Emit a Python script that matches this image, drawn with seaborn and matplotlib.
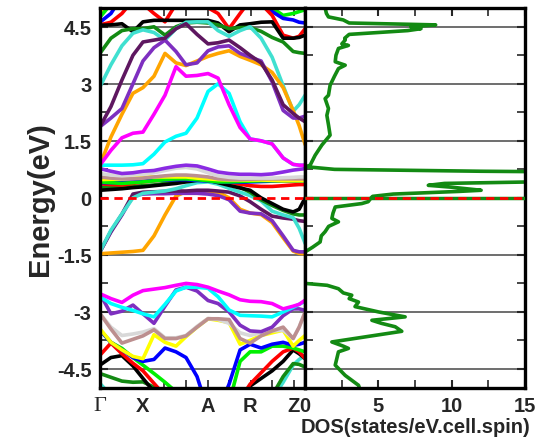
import numpy as np
import pandas as pd
import seaborn as sns
import matplotlib
matplotlib.use('Agg')
import matplotlib.pyplot as plt
from matplotlib.ticker import MultipleLocator, FixedLocator

# k-path (pixel-like units along the path) and high symmetry points
k_path = [0, 11, 22, 33, 43, 54, 65, 76, 86, 97, 108, 118, 129, 140, 150, 161, 172, 183, 193, 199, 205]
high_sym_k = [0, 43, 108, 150, 193]
high_sym_labels = ['Γ', 'X', 'A', 'R', 'Z']
path_minor_k = [43, 64.5, 86, 107.5, 129, 150.5, 172, 193.5]

# ---- conduction bands (eV) ----
c_red = [4.55, 4.62, 4.85, 5.2, 5.1, 4.85, 4.63, 5.1, 5.4, 5.2, 5.0, 4.85, 4.45, 4.85, 5.2, 5.1, 4.8, 4.28, 4.2, 4.25, 4.45]
c_blue = [4.62, 4.85, 5.3, 5.5, 5.5, 5.5, 5.5, 5.5, 5.5, 5.5, 5.5, 5.5, 5.5, 5.5, 5.5, 5.2, 4.9, 4.72, 4.68, 4.62, 4.6]
c_lime = [4.75, 5.1, 5.5, 5.5, 5.5, 5.5, 5.5, 5.5, 5.5, 5.5, 5.5, 5.5, 5.5, 5.5, 5.5, 5.3, 5.0, 4.8, 4.85, 4.9, 4.95]
c_yellow = [4.85, 5.2, 5.5, 5.5, 5.5, 5.5, 5.5, 5.5, 5.5, 5.5, 5.5, 5.5, 5.5, 5.5, 5.5, 5.5, 5.5, 5.5, 5.5, 5.5, 5.5]
c_black = [4.54, 4.55, 4.58, 4.37, 4.63, 4.67, 4.67, 4.67, 4.67, 4.67, 4.67, 4.6, 4.37, 4.55, 4.58, 4.62, 4.63, 4.2, 4.2, 4.22, 4.28]
c_green = [3.8, 4.2, 4.4, 4.45, 4.45, 4.5, 4.28, 4.5, 4.6, 4.62, 4.6, 4.55, 4.45, 4.48, 4.48, 4.38, 4.22, 4.1, 3.85, 3.82, 3.8]
c_turq = [2.92, 3.5, 4.0, 4.33, 4.42, 4.35, 4.15, 4.45, 4.62, 4.63, 4.63, 4.4, 4.25, 4.4, 4.5, 4.2, 3.7, 2.95, 2.28, 2.45, 2.7]
c_dpurple = [1.87, 2.4, 3.1, 3.75, 4.1, 4.15, 4.2, 4.45, 4.58, 4.3, 4.05, 4.08, 4.15, 3.95, 3.75, 3.55, 3.1, 2.45, 2.22, 2.1, 2.0]
c_violet = [1.87, 2.1, 2.35, 3.0, 3.6, 3.95, 4.15, 3.85, 3.5, 3.55, 3.87, 3.97, 4.0, 3.8, 3.7, 3.6, 3.05, 2.3, 2.1, 2.1, 2.15]
c_orange = [0.86, 1.6, 2.2, 2.75, 2.9, 3.2, 3.8, 3.55, 3.48, 3.6, 3.72, 3.8, 3.87, 3.72, 3.62, 3.5, 3.3, 2.9, 2.3, 1.9, 1.4]
c_magenta = [0.86, 1.25, 1.58, 1.7, 1.73, 2.2, 2.7, 3.45, 3.2, 3.22, 3.27, 3.15, 2.45, 1.85, 1.55, 1.5, 1.42, 1.05, 0.88, 0.86, 0.86]
c_cyan = [0.86, 0.86, 0.86, 0.87, 0.9, 1.15, 1.47, 1.62, 1.7, 2.1, 2.8, 3.0, 2.75, 2.0, 1.55, 1.5, 1.42, 1.05, 0.88, 0.86, 0.86]

# ---- bands near the Fermi level ----
f_violet = [0.77, 0.7, 0.64, 0.66, 0.7, 0.72, 0.78, 0.83, 0.86, 0.84, 0.76, 0.68, 0.64, 0.62, 0.62, 0.61, 0.63, 0.68, 0.73, 0.75, 0.77]
f_gray = [0.64, 0.6, 0.58, 0.6, 0.62, 0.66, 0.72, 0.78, 0.8, 0.76, 0.66, 0.58, 0.54, 0.52, 0.52, 0.52, 0.52, 0.53, 0.54, 0.55, 0.55]
f_tan = [0.55, 0.52, 0.5, 0.5, 0.52, 0.55, 0.58, 0.6, 0.6, 0.58, 0.55, 0.5, 0.48, 0.48, 0.49, 0.5, 0.5, 0.5, 0.5, 0.5, 0.5]
f_yellow = [0.48, 0.49, 0.5, 0.52, 0.54, 0.55, 0.55, 0.55, 0.55, 0.52, 0.5, 0.48, 0.47, 0.47, 0.47, 0.47, 0.46, 0.45, 0.45, 0.45, 0.45]
f_lime = [0.42, 0.4, 0.38, 0.4, 0.42, 0.45, 0.48, 0.5, 0.5, 0.48, 0.45, 0.42, 0.42, 0.43, 0.44, 0.45, 0.45, 0.45, 0.45, 0.45, 0.45]
f_blue = [0.4, 0.4, 0.4, 0.42, 0.44, 0.46, 0.47, 0.48, 0.48, 0.46, 0.44, 0.42, 0.41, 0.41, 0.42, 0.43, 0.44, 0.44, 0.44, 0.44, 0.44]
f_red = [0.37, 0.35, 0.34, 0.38, 0.42, 0.45, 0.48, 0.5, 0.5, 0.5, 0.48, 0.45, 0.42, 0.36, 0.32, 0.3, 0.3, 0.32, 0.34, 0.35, 0.35]
f_green = [0.28, 0.28, 0.29, 0.3, 0.32, 0.34, 0.38, 0.42, 0.45, 0.47, 0.46, 0.42, 0.36, 0.28, 0.15, -0.05, -0.2, -0.33, -0.42, -0.45, -0.45]
f_black = [0.2, 0.22, 0.24, 0.27, 0.29, 0.32, 0.35, 0.38, 0.42, 0.46, 0.47, 0.4, 0.33, 0.26, 0.2, 0.0, -0.15, -0.3, -0.37, -0.3, 0.0]
v_dpurple = [-1.42, -0.88, -0.43, 0.1, 0.15, 0.16, 0.17, 0.18, 0.18, 0.2, 0.2, 0.18, 0.15, 0.05, -0.1, -0.3, -0.48, -0.53, -0.56, -0.6, -0.62]
v_violet = [-1.42, -0.9, -0.45, 0.05, 0.1, 0.11, 0.11, 0.12, 0.12, 0.12, 0.1, 0.06, -0.05, -0.35, -0.4, -0.42, -0.6, -1.0, -1.38, -1.42, -1.42]
v_orange = [-1.47, -1.45, -1.43, -1.41, -1.38, -1.0, -0.45, 0.05, 0.16, 0.16, 0.16, 0.15, 0.0, -0.3, -0.4, -0.44, -0.65, -1.05, -1.4, -1.46, -1.47]
v_turq = [-1.42, -0.85, -0.42, 0.0, 0.12, 0.15, 0.18, 0.24, 0.32, 0.4, 0.42, 0.36, 0.25, 0.15, 0.06, -0.08, -0.35, -0.45, -0.52, -0.8, -1.2]

# ---- lower valence bands ----
l_magenta = [-2.52, -2.65, -2.75, -2.56, -2.44, -2.4, -2.36, -2.3, -2.25, -2.28, -2.35, -2.45, -2.55, -2.68, -2.72, -2.73, -2.78, -2.92, -2.85, -2.8, -2.69]
l_cyan = [-2.6, -2.78, -2.88, -2.96, -3.05, -3.13, -2.8, -2.45, -2.35, -2.35, -2.38, -2.6, -2.95, -3.09, -3.1, -3.11, -3.13, -3.0, -2.88, -2.8, -2.72]
l_violet = [-2.52, -3.05, -2.98, -2.82, -3.05, -3.3, -2.85, -2.42, -2.35, -2.45, -2.7, -2.78, -3.0, -3.35, -3.5, -3.52, -3.4, -3.1, -2.92, -2.92, -2.96]
l_gray = [-3.04, -3.4, -3.62, -3.58, -3.53, -3.44, -3.68, -3.68, -3.62, -3.38, -3.17, -3.2, -3.3, -3.55, -3.62, -3.55, -3.5, -3.48, -3.7, -3.4, -3.0]
l_tan = [-3.04, -3.45, -3.82, -3.72, -3.63, -3.47, -3.7, -3.7, -3.63, -3.4, -3.18, -3.18, -3.2, -3.7, -3.82, -3.63, -3.5, -3.4, -3.7, -3.4, -3.0]
l_yellow = [-3.44, -3.8, -4.0, -4.17, -4.23, -3.6, -3.8, -3.9, -3.65, -3.4, -3.18, -3.22, -3.28, -3.85, -3.75, -3.62, -3.55, -3.48, -3.9, -3.75, -3.62]
l_blue = [-3.48, -3.8, -4.0, -4.2, -4.3, -4.25, -3.95, -4.05, -4.2, -4.7, -5.6, -5.6, -4.9, -4.0, -3.85, -3.95, -3.85, -3.8, -3.88, -3.85, -3.8]
l_lime = [-3.48, -3.8, -3.96, -4.2, -4.4, -4.62, -4.85, -5.1, -5.4, -5.5, -5.5, -5.5, -5.4, -4.3, -4.05, -4.05, -3.9, -3.9, -3.95, -4.0, -4.05]
l_red = [-4.14, -3.82, -4.1, -4.35, -4.55, -4.88, -5.2, -5.5, -5.5, -5.5, -5.5, -5.5, -5.5, -5.3, -4.9, -4.6, -4.3, -4.05, -3.95, -4.05, -4.23]
l_black = [-4.4, -4.2, -4.15, -4.42, -4.75, -5.1, -5.4, -5.5, -5.5, -5.5, -5.5, -5.5, -5.5, -5.3, -4.95, -4.75, -4.55, -4.3, -4.0, -4.1, -4.23]
l_green = [-4.62, -4.72, -4.82, -4.85, -4.84, -4.98, -5.3, -5.5, -5.5, -5.5, -5.5, -5.5, -5.5, -5.5, -5.5, -5.5, -5.2, -4.7, -4.36, -4.38, -4.45]
l_turq = [-4.88, -5.2, -5.5, -5.5, -5.5, -5.5, -5.5, -5.5, -5.5, -5.5, -5.5, -5.5, -5.5, -5.5, -5.5, -5.5, -5.3, -4.85, -4.4, -4.25, -4.15]

# ---- total DOS ----
dos_E = [5.0, 4.85, 4.76, 4.68, 4.6, 4.55, 4.5, 4.45, 4.4, 4.3, 4.2, 4.15, 4.05, 4.01, 3.93, 3.75, 3.58, 3.49, 3.4,
         3.2, 2.96, 2.7, 2.61, 2.35, 2.17, 1.9, 1.65, 1.39, 1.12, 0.86, 0.82, 0.75, 0.7, 0.68, 0.62, 0.5, 0.42,
         0.38, 0.33, 0.28, 0.2, 0.17, 0.1, 0.04, 0.0, -0.1, -0.15, -0.24, -0.4, -0.54, -0.63, -0.75, -0.89, -1.0,
         -1.16, -1.3, -1.42, -2.25, -2.3, -2.39, -2.5, -2.56, -2.65, -2.74, -2.86, -3.0, -3.13, -3.22, -3.3, -3.39,
         -3.51, -3.79, -3.9, -3.96, -4.05, -4.4, -4.67, -4.93, -5.0]
dos_val = [1.36, 1.45, 1.59, 2.6, 3.0, 8.9, 7.2, 7.9, 7.0, 3.0, 2.7, 2.73, 2.5, 2.95, 2.27, 2.1, 2.05, 2.73, 2.27,
           2.0, 1.7, 1.59, 1.36, 1.59, 1.48, 1.6, 1.7, 1.14, 0.68, 0.34, 0.05, 2.0, 12.0, 19.0, 17.0, 16.0, 15.5,
           9.5, 8.4, 10.0, 12.0, 10.5, 6.0, 4.6, 4.5, 4.3, 3.86, 2.05, 1.9, 1.82, 2.27, 1.6, 1.36, 1.1,
           1.02, 0.5, 0.0, 0.0, 1.5, 2.27, 2.6, 3.18, 3.0, 3.64, 3.4, 5.0, 6.82, 4.55, 5.2, 6.14,
           6.59, 1.82, 2.6, 2.95, 2.27, 2.05, 2.73, 3.64, 3.7]

# band name -> (color, values), drawing order bottom to top
bands = [
    ('l_turq', '#40e0d0', l_turq), ('l_green', '#138a13', l_green), ('l_black', 'black', l_black),
    ('l_red', 'red', l_red), ('l_lime', '#00f000', l_lime), ('l_blue', 'blue', l_blue),
    ('l_yellow', '#ffff00', l_yellow), ('l_gray', '#d8d8d8', l_gray), ('l_tan', '#bc8f8f', l_tan),
    ('l_violet', '#7e2fc0', l_violet), ('l_cyan', '#00ffff', l_cyan), ('l_magenta', '#ff00ff', l_magenta),
    ('v_orange', '#ffa500', v_orange), ('v_violet', '#7e2fc0', v_violet), ('v_dpurple', '#5e1760', v_dpurple),
    ('v_turq', '#40e0d0', v_turq),
    ('f_green', '#138a13', f_green), ('f_black', 'black', f_black), ('f_red', 'red', f_red),
    ('f_blue', 'blue', f_blue), ('f_lime', '#00f000', f_lime), ('f_yellow', '#ffff00', f_yellow),
    ('f_tan', '#bc8f8f', f_tan), ('f_gray', '#d8d8d8', f_gray), ('f_violet', '#8a2be2', f_violet),
    ('c_yellow', '#ffff00', c_yellow), ('c_lime', '#00f000', c_lime), ('c_blue', 'blue', c_blue),
    ('c_red', 'red', c_red), ('c_black', 'black', c_black), ('c_green', '#138a13', c_green),
    ('c_turq', '#40e0d0', c_turq), ('c_orange', '#ffa500', c_orange), ('c_violet', '#7e2fc0', c_violet),
    ('c_dpurple', '#5e1760', c_dpurple), ('c_cyan', '#00ffff', c_cyan), ('c_magenta', '#ff00ff', c_magenta),
]

df = pd.concat([pd.DataFrame({'k': k_path, 'E': vals, 'band': name}) for name, _, vals in bands],
               ignore_index=True)
palette = {name: col for name, col, _ in bands}

sns.set_style('white')
plt.rcParams['font.family'] = ['Liberation Sans', 'DejaVu Sans']
plt.rcParams['font.weight'] = 'bold'

fig = plt.figure(figsize=(5.43, 4.39), dpi=100)
ax1 = fig.add_axes([0.184, 0.114, 0.378, 0.866])
ax2 = fig.add_axes([0.562, 0.114, 0.405, 0.866])

major_e = [-4.5, -3, -1.5, 0, 1.5, 3, 4.5]
for ax in (ax1, ax2):
    for e in major_e:
        if e != 0:
            ax.axhline(e, color='#555555', lw=1.2, zorder=0)

# band structure
sns.lineplot(data=df, x='k', y='E', hue='band', palette=palette, hue_order=[b[0] for b in bands],
             estimator=None, sort=False, legend=False, linewidth=2.6, ax=ax1)
ax1.axhline(0, color='red', lw=2, ls=(0, (3, 2)), zorder=5)
ax1.set_xlim(0, 205)
ax1.set_ylim(-5, 5)
ax1.set_xticks(high_sym_k)
ax1.set_xticklabels(high_sym_labels)
ax1.xaxis.set_minor_locator(FixedLocator(path_minor_k))
ax1.set_yticks(major_e)
ax1.set_yticklabels(['-4.5', '-3', '-1.5', '0', '1.5', '3', '4.5'])
ax1.yaxis.set_minor_locator(MultipleLocator(0.75))
ax1.tick_params(axis='both', which='major', direction='in', length=6, width=1.5, labelsize=14.5, pad=6)
ax1.tick_params(axis='both', which='minor', direction='in', length=6, width=1.2)
ax1.tick_params(axis='x', which='both', top=True, bottom=True)
ax1.tick_params(axis='x', which='major', length=0)
ax1.tick_params(axis='y', left=True, which='both')
for lab in ax1.get_xticklabels():
    lab.set_fontweight('bold')
gl = ax1.get_xticklabels()[0]
gl.set_fontfamily('Liberation Serif')
gl.set_fontweight('normal')
gl.set_fontsize(16)
ax1.set_xlabel('')
ax1.set_ylabel('Energy(eV)', fontsize=21, fontweight='bold', labelpad=2)

# DOS
ax2.axhline(0, color='#138a13', lw=2.5, zorder=4)
ax2.axhline(0, color='red', lw=2, ls=(0, (3, 2)), zorder=5)
sns.lineplot(x=dos_val, y=dos_E, sort=False, estimator=None, color='#138a13', linewidth=2.6, ax=ax2)
ax2.set_xlim(0, 15)
ax2.set_ylim(-5, 5)
ax2.set_xticks([0, 5, 10, 15])
ax2.xaxis.set_minor_locator(MultipleLocator(2.5))
ax2.set_yticks(major_e)
ax2.yaxis.set_minor_locator(MultipleLocator(0.75))
ax2.set_yticklabels([])
ax2.tick_params(axis='both', which='major', direction='in', length=6, width=1.5, labelsize=14.5, pad=6)
ax2.tick_params(axis='both', which='minor', direction='in', length=6, width=1.2)
ax2.tick_params(axis='x', which='both', top=True, bottom=True)
ax2.tick_params(axis='y', which='both', left=True, right=True)
ax2.set_xlabel('DOS(states/eV.cell.spin)', fontsize=14.5, fontweight='bold', labelpad=1)
ax2.set_ylabel('')

for ax in (ax1, ax2):
    for s in ax.spines.values():
        s.set_linewidth(2.4)
        s.set_color('black')

fig.savefig('out.png', dpi=100)
